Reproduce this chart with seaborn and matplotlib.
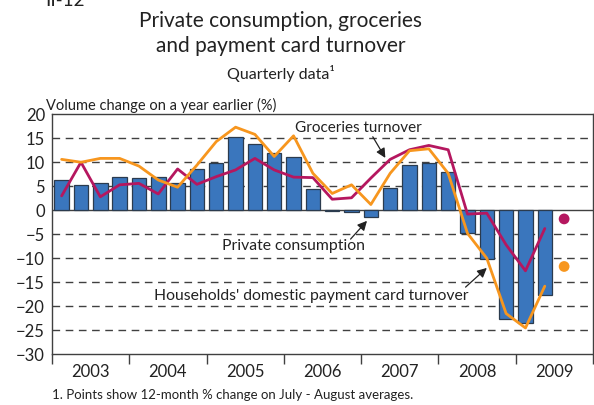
import numpy as np
import pandas as pd
import matplotlib
matplotlib.use("Agg")
import matplotlib.pyplot as plt
import seaborn as sns

# Quarterly data, 2003Q1 - 2009Q2
years = ["2003", "2004", "2005", "2006", "2007", "2008", "2009"]
private_consumption = [6.3, 5.2, 5.6, 7.0, 6.7, 6.9, 5.6, 8.5,
                       9.8, 15.2, 13.8, 11.9, 11.0, 4.4, -0.2, -0.3,
                       -1.5, 4.6, 9.4, 9.8, 7.9, -4.8, -10.2, -22.6,
                       -23.5, -17.6]
groceries_turnover = [3.0, 10.0, 2.8, 5.3, 5.6, 3.4, 8.6, 5.4,
                      7.0, 8.4, 10.8, 8.4, 6.9, 6.8, 2.3, 2.6,
                      6.7, 10.6, 12.6, 13.5, 12.6, -0.8, -0.6, -7.2,
                      -12.6, -3.8]
card_turnover = [10.6, 10.0, 10.8, 10.8, 9.2, 6.3, 4.8, 9.4,
                 14.3, 17.3, 15.8, 11.2, 15.5, 7.7, 3.5, 5.3,
                 1.2, 7.7, 12.4, 12.8, 7.7, -4.8, -10.0, -21.5,
                 -24.5, -15.8]
# 12-month change on July-August averages (2009)
groceries_point = -1.8
card_point = -11.7

blue = "#3a76bd"
magenta = "#b5175f"
orange = "#f7961e"
grey = "#404040"
txt = "#222222"

sns.set_theme(style="white")
plt.rcParams["font.family"] = ["Lato", "DejaVu Sans"]

df = pd.DataFrame({
    "q": np.arange(len(private_consumption)) + 0.5,
    "pc": private_consumption,
    "gt": groceries_turnover,
    "ct": card_turnover,
})
pts = pd.DataFrame({"q": [len(private_consumption) + 0.5] * 2,
                    "v": [groceries_point, card_point],
                    "s": ["g", "c"]})

fig = plt.figure(figsize=(5.94, 4.05), dpi=100)
ax = fig.add_axes([0.0875, 0.125, 0.911, 0.593])

# dashed grid
for v in [15, 10, 5, -5, -10, -15, -20, -25]:
    ax.axhline(v, color=grey, lw=1.0, ls=(0, (5.5, 4)), zorder=0.5)
ax.axhline(0, color=grey, lw=1.0, zorder=0.6)

sns.barplot(data=df, x="q", y="pc", native_scale=True, width=0.75,
            color=blue, edgecolor="#2b3b4e", linewidth=0.9,
            saturation=1, ax=ax, zorder=2)
sns.lineplot(data=df, x="q", y="gt", color=magenta, lw=2.0, ax=ax, zorder=3)
sns.lineplot(data=df, x="q", y="ct", color=orange, lw=2.0, ax=ax, zorder=3)
sns.scatterplot(data=pts, x="q", y="v", hue="s",
                palette={"g": magenta, "c": orange}, s=60,
                edgecolor="none", legend=False, ax=ax, zorder=4)

ax.set_xlim(0, 28)
ax.set_ylim(-30, 20)
ax.set_yticks(np.arange(-30, 21, 5))
ax.set_xticks(np.arange(0, 29, 4))
ax.set_xticklabels([])
ax.set_xticks(np.arange(2, 28, 4), minor=True)
ax.set_xticklabels(years, minor=True)
ax.tick_params(axis="x", which="major", direction="out", length=7,
               width=1.0, color=grey, bottom=True)
ax.tick_params(axis="x", which="minor", length=0, labelsize=12,
               labelcolor=txt, pad=7)
ax.tick_params(axis="y", length=0, labelsize=12, labelcolor=txt,
               pad=5)
ax.set_xlabel("")
ax.set_ylabel("")
for sp in ax.spines.values():
    sp.set_color(grey)
    sp.set_linewidth(1.0)

# annotations
arrow = dict(arrowstyle="-|>", color=txt, lw=0.9, mutation_scale=14,
             shrinkA=0, shrinkB=0)
ax.text(15.85, 17.1, "Groceries turnover", fontsize=11, color=txt,
        ha="center", va="center", zorder=5)
ax.annotate("", xy=(17.25, 10.9), xytext=(16.6, 15.3), arrowprops=arrow)
ax.text(12.5, -7.4, "Private consumption", fontsize=11.3, color=txt,
        ha="center", va="center", zorder=5)
ax.annotate("", xy=(16.3, -2.2), xytext=(15.45, -6.0), arrowprops=arrow)
ax.text(13.4, -17.9, "Households' domestic payment card turnover",
        fontsize=11.3, color=txt, ha="center", va="center", zorder=5)
ax.annotate("", xy=(22.5, -12.0), xytext=(21.4, -16.0), arrowprops=arrow)

fig.text(0.078, 0.728, "Volume change on a year earlier (%)",
         fontsize=10.5, color=txt, ha="left", va="baseline")
fig.text(0.473, 0.948, "Private consumption, groceries",
         fontsize=15, color=txt, ha="center", va="center")
fig.text(0.473, 0.886, "and payment card turnover",
         fontsize=15, color=txt, ha="center", va="center")
fig.text(0.473, 0.818, "Quarterly data\u00b9",
         fontsize=11.5, color=txt, ha="center", va="center")
fig.text(0.076, 0.998, "II-12", fontsize=13.5, color=txt,
         ha="left", va="center")
fig.text(0.087, 0.025, "1. Points show 12-month % change on July - August averages.",
         fontsize=9.5, color=txt, ha="left", va="center")

fig.savefig("out.png", dpi=100)
